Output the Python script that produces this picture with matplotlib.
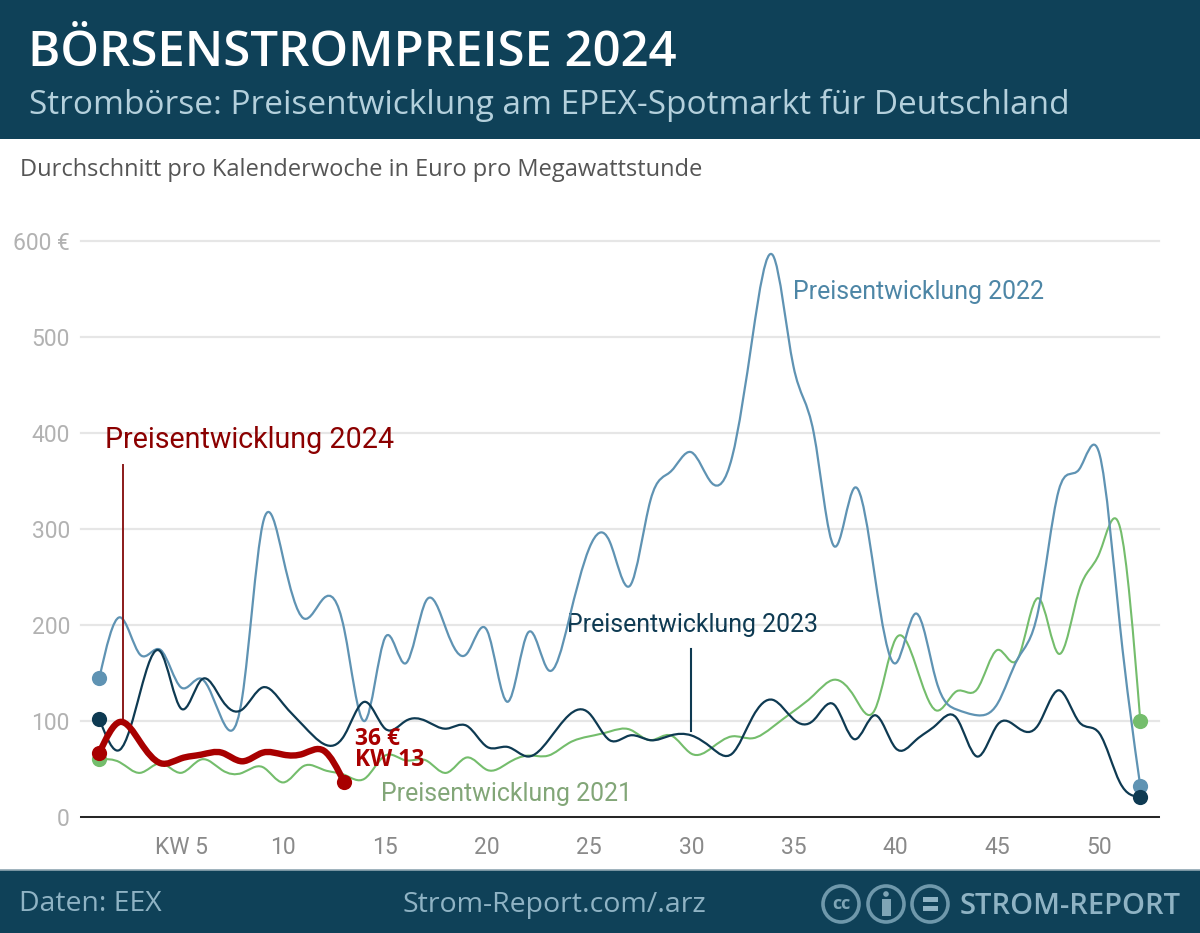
import numpy as np
import matplotlib
matplotlib.use("Agg")
import matplotlib.pyplot as plt
from matplotlib.path import Path
from matplotlib.patches import PathPatch, Rectangle, Circle

# Wochenwerte in Euro pro MWh
kw = np.arange(1, 53)
preis_2021 = [60, 57, 46, 56, 46, 60, 49, 46, 52, 36, 53, 49, 44, 40, 64, 59, 59, 46, 62, 49,
              56, 64, 64, 77, 84, 89, 91, 80, 85, 66, 72, 84, 82, 94, 110, 127, 143, 125, 112, 185,
              158, 111, 131, 133, 174, 165, 228, 170, 236, 275, 302, 100]
preis_2022 = [145, 208, 169, 174, 135, 144, 102, 125, 305, 270, 207, 228, 195, 100, 187, 160, 225, 195, 170, 194,
              120, 192, 153, 205, 280, 287, 241, 330, 360, 380, 348, 375, 500, 585, 470, 400, 282, 343, 250, 160,
              212, 142, 112, 106, 118, 165, 215, 340, 362, 378, 200, 32]
preis_2023 = [102, 70, 130, 172, 113, 143, 122, 112, 135, 118, 95, 76, 85, 120, 92, 100, 100, 92, 95, 73,
              73, 63, 80, 106, 108, 80, 85, 80, 85, 85, 72, 66, 104, 122, 102, 101, 117, 81, 106, 72,
              80, 96, 103, 63, 96, 93, 96, 132, 99, 87, 36, 21]
preis_2024 = [67, 99, 78, 56, 61, 65, 67, 58, 67, 65, 66, 69, 36]

y_ticks = [0, 100, 200, 300, 400, 500, 600]
y_labels = ["0", "100", "200", "300", "400", "500", "600 €"]
x_ticks = [5, 10, 15, 20, 25, 30, 35, 40, 45, 50]
x_labels = ["KW 5", "10", "15", "20", "25", "30", "35", "40", "45", "50"]

c_2021 = "#74bd6c"
c_2022 = "#5f93b3"
c_2023 = "#0e3a52"
c_2024 = "#a80000"
c_band = "#0f4158"
c_sub = "#b4d0dc"
c_foot = "#8fb3c4"

W, H = 1200, 933


def glatt(x, y):
    # natuerlicher kubischer Spline als Bezier-Pfad durch alle Wochenwerte
    x = np.asarray(x, float)
    y = np.asarray(y, float)
    n = len(x)
    A = np.zeros((n, n))
    b = np.zeros(n)
    A[0, 0], A[0, 1] = 2, 1
    b[0] = 3 * (y[1] - y[0])
    A[-1, -1], A[-1, -2] = 2, 1
    b[-1] = 3 * (y[-1] - y[-2])
    for i in range(1, n - 1):
        A[i, i - 1], A[i, i], A[i, i + 1] = 1, 4, 1
        b[i] = 3 * (y[i + 1] - y[i - 1])
    d = np.linalg.solve(A, b)
    verts = [(x[0], y[0])]
    codes = [Path.MOVETO]
    for i in range(n - 1):
        verts += [(x[i] + 1 / 3, y[i] + d[i] / 3), (x[i + 1] - 1 / 3, y[i + 1] - d[i + 1] / 3), (x[i + 1], y[i + 1])]
        codes += [Path.CURVE4] * 3
    return Path(verts, codes)


fig = plt.figure(figsize=(W / 100, H / 100), dpi=100)
plt.rcParams["font.family"] = ["Roboto", "DejaVu Sans"]

# Diagramm
ax = fig.add_axes([81 / W, 1 - 817 / H, (1159 - 81) / W, (817 - 241) / H])
ax.set_xlim(1 + (81 - 99.4) / 20.41, 1 + (1159 - 99.4) / 20.41)
ax.set_ylim(0, 600)
ax.patch.set_visible(False)
for s in ["top", "right", "left"]:
    ax.spines[s].set_visible(False)
ax.spines["bottom"].set_color("#222222")
ax.spines["bottom"].set_linewidth(1.4)
ax.grid(axis="y", color="#e6e6e6", linewidth=1.6, clip_on=False)
ax.set_axisbelow(True)
ax.set_yticks(y_ticks, y_labels, fontsize=16.5, color="#b2b2b2")
ax.set_xticks(x_ticks, x_labels, fontsize=16.5, color="#8a8a8a")
ax.tick_params(axis="both", length=0)
ax.tick_params(axis="x", pad=14)
ax.tick_params(axis="y", pad=8)

for werte, farbe, lw, z in [(preis_2021, c_2021, 1.5, 3), (preis_2022, c_2022, 1.6, 4),
                            (preis_2023, c_2023, 1.6, 5), (preis_2024, c_2024, 4.6, 7)]:
    wochen = kw[:len(werte)]
    ax.add_patch(PathPatch(glatt(wochen, werte), fill=False, edgecolor=farbe, linewidth=lw,
                           capstyle="round", joinstyle="round", zorder=z))
    ax.scatter([wochen[0], wochen[-1]], [werte[0], werte[-1]], s=120, color=farbe, linewidth=0,
               zorder=z + 1, clip_on=False)

# Hinweislinien
ax.plot([2.15, 2.15], [97, 367], color="#8b1a1a", linewidth=1.4, zorder=6)
ax.plot([30, 30], [90, 175], color=c_2023, linewidth=1.5, zorder=6)

ax.text(35.0, 547, "Preisentwicklung 2022", color="#4d86a6", fontsize=17.9, va="center")
ax.text(1.28, 393, "Preisentwicklung 2024", color="#8b0000", fontsize=20.6, va="center")
ax.text(23.9, 200, "Preisentwicklung 2023", color=c_2023, fontsize=17.9, va="center")
ax.text(14.8, 24, "Preisentwicklung 2021", color="#82a678", fontsize=17.9, va="center")
ax.text(13.52, 70, "36 €\nKW 13", color=c_2024, fontsize=16.5, fontweight="bold",
        family=["Open Sans", "DejaVu Sans"], va="center", linespacing=0.85, zorder=9)

# Kopf und Fuss in Pixelkoordinaten
deko = fig.add_axes([0, 0, 1, 1], zorder=10)
deko.set_xlim(0, W)
deko.set_ylim(H, 0)
deko.axis("off")
deko.patch.set_visible(False)
deko.add_patch(Rectangle((0, 0), W, 139, color=c_band, linewidth=0))
deko.add_patch(Rectangle((0, 870), W, 63, color=c_band, linewidth=0))
deko.plot([0, W], [870, 870], color="#8fa6b1", linewidth=1.2)

kopf = ["Open Sans", "DejaVu Sans"]
deko.text(28, 54, "BÖRSENSTROMPREISE 2024", color="white", fontsize=35.4, fontweight="semibold",
          family=kopf, va="center")
deko.text(29, 105, "Strombörse: Preisentwicklung am EPEX-Spotmarkt für Deutschland", color=c_sub,
          fontsize=24, family=kopf, va="center")
deko.text(20, 170, "Durchschnitt pro Kalenderwoche in Euro pro Megawattstunde", color="#555555",
          fontsize=17, family=kopf, va="center")
deko.text(19, 904, "Daten: EEX", color=c_foot, fontsize=20.4, family=kopf, va="center")
deko.text(554, 905, "Strom-Report.com/.arz", color=c_foot, fontsize=20.5, family=kopf, va="center", ha="center")
deko.text(960, 906, "STROM-REPORT", color=c_foot, fontsize=21, fontweight="semibold", family=kopf, va="center")

# CC-Zeichen
for cx in [841, 886, 930]:
    deko.add_patch(Circle((cx, 904), 18, fill=False, edgecolor="#6f98ab", linewidth=2.6))
deko.text(841, 904, "cc", color="#7fa5b6", fontsize=13, fontweight="bold", family=kopf, ha="center", va="center")
deko.add_patch(Circle((886, 894), 2.8, color="#7fa5b6", linewidth=0))
deko.add_patch(Rectangle((881.5, 899), 9, 17, color="#7fa5b6", linewidth=0))
deko.add_patch(Rectangle((923, 897), 15, 5, color="#8fb3c4", linewidth=0))
deko.add_patch(Rectangle((923, 906), 15, 5, color="#8fb3c4", linewidth=0))

fig.savefig("out.png", dpi=100)
